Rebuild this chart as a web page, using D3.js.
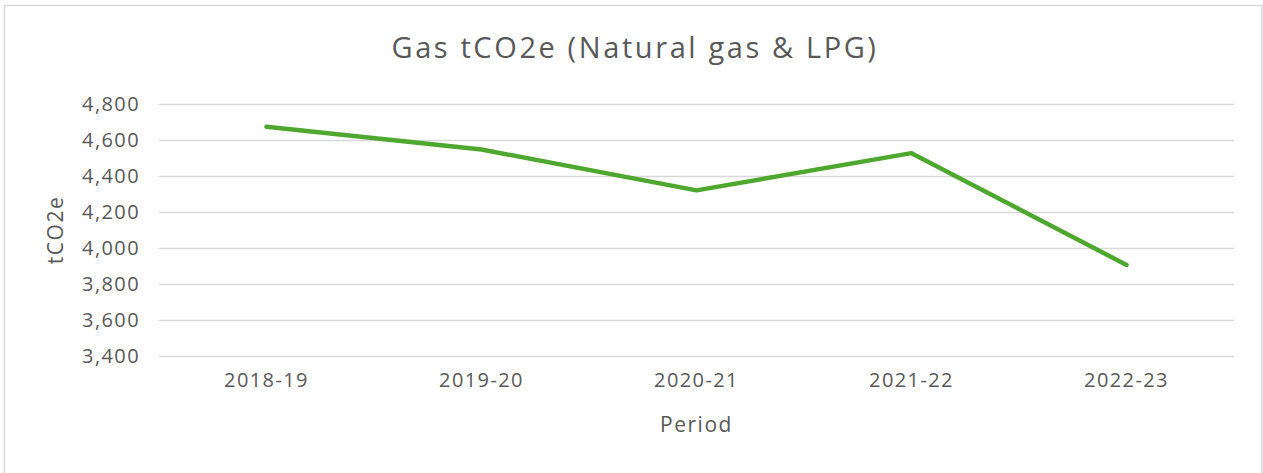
<!DOCTYPE html>
<html>
<head>
<meta charset="utf-8">
<script src="https://cdn.jsdelivr.net/npm/d3@7"></script>
<style>
  body { margin: 0; background: #fff; }
  svg text { font-family: "Open Sans", Roboto, sans-serif; fill: #595959; }
</style>
</head>
<body>
<div id="chart"></div>
<script>
// chart data
var periods = ["2018-19", "2019-20", "2020-21", "2021-22", "2022-23"];
var gasTco2e = [4673, 4547, 4320, 4527, 3906];
var yTicks = [3400, 3600, 3800, 4000, 4200, 4400, 4600, 4800];

var width = 1263, height = 473;
var margin = { left: 159, right: 29, top: 104, bottom: 117 };

var svg = d3.select("#chart").append("svg")
    .attr("width", width)
    .attr("height", height);

// outer chart border
svg.append("rect")
    .attr("x", 4.5).attr("y", 5.5)
    .attr("width", width - 5.5).attr("height", height)
    .attr("fill", "#fff")
    .attr("stroke", "#d9d9d9")
    .attr("stroke-width", 1.5);

var x = d3.scaleBand()
    .domain(periods)
    .range([margin.left, width - margin.right]);

var y = d3.scaleLinear()
    .domain([3400, 4800])
    .range([height - margin.bottom, margin.top]);

var fmt = d3.format(",");

// gridlines + y labels
var yAxis = d3.axisLeft(y)
    .tickValues(yTicks)
    .tickFormat(fmt)
    .tickSize(-(width - margin.left - margin.right))
    .tickPadding(19);

var gy = svg.append("g")
    .attr("transform", "translate(" + margin.left + ",0)")
    .call(yAxis);
gy.select(".domain").remove();
gy.selectAll(".tick line").attr("stroke", "#d9d9d9").attr("stroke-width", 1.5);
gy.selectAll(".tick text")
    .attr("font-size", 20)
    .style("letter-spacing", "1.4px")
    .style("fill", "#595959");

// x labels
var xAxis = d3.axisBottom(x).tickSize(0).tickPadding(17);
var gx = svg.append("g")
    .attr("transform", "translate(0," + (height - margin.bottom) + ")")
    .call(xAxis);
gx.select(".domain").remove();
gx.selectAll(".tick text")
    .attr("font-size", 20)
    .style("letter-spacing", "1.4px")
    .style("fill", "#595959");

// line
var line = d3.line()
    .x(function(d, i) { return x(periods[i]) + x.bandwidth() / 2; })
    .y(function(d) { return y(d); });

svg.append("path")
    .datum(gasTco2e)
    .attr("d", line)
    .attr("fill", "none")
    .attr("stroke", "#4ea72e")
    .attr("stroke-width", 4.5)
    .attr("stroke-linecap", "round")
    .attr("stroke-linejoin", "round");

// titles
svg.append("text")
    .attr("x", 635).attr("y", 58)
    .attr("text-anchor", "middle")
    .attr("font-size", 29)
    .style("letter-spacing", "2.6px")
    .text("Gas tCO2e (Natural gas & LPG)");

svg.append("text")
    .attr("transform", "translate(63," + ((margin.top + height - margin.bottom) / 2) + ") rotate(-90)")
    .attr("text-anchor", "middle")
    .attr("font-size", 21)
    .style("letter-spacing", "1.5px")
    .text("tCO2e");

svg.append("text")
    .attr("x", (margin.left + width - margin.right) / 2).attr("y", 432)
    .attr("text-anchor", "middle")
    .attr("font-size", 21)
    .style("letter-spacing", "1.5px")
    .text("Period");
</script>
</body>
</html>
